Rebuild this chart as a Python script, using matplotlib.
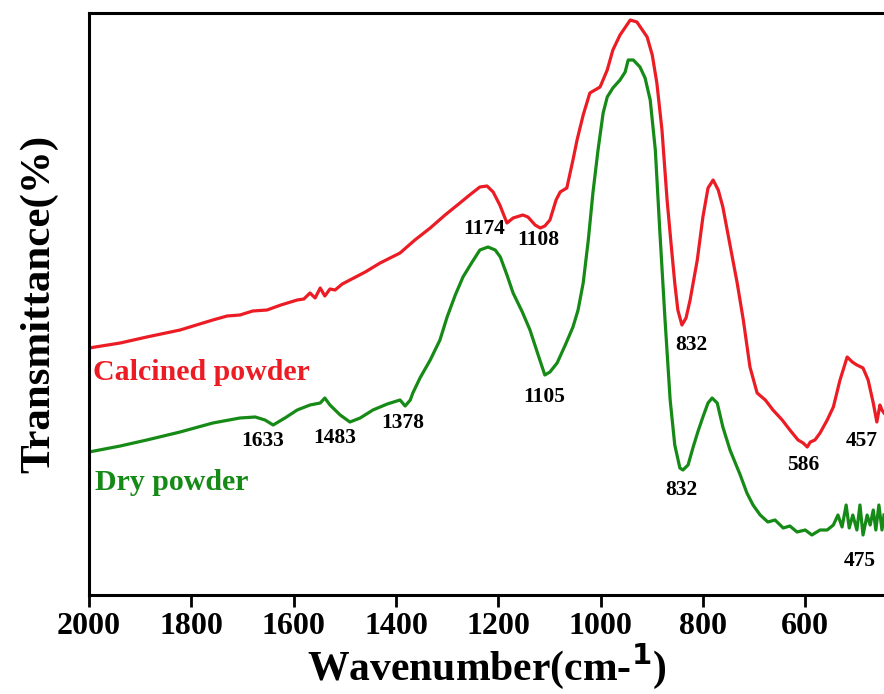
import matplotlib
matplotlib.use("Agg")
import matplotlib.pyplot as plt

plt.rcParams['font.family'] = ['Liberation Serif', 'DejaVu Serif']
plt.rcParams['font.weight'] = 'bold'

# calcined powder (wavenumber cm-1, transmittance a.u.)
calc_wn = [2000, 1939, 1887, 1822, 1758, 1730, 1705, 1680, 1652, 1625, 1593, 1580, 1568, 1558,
           1548, 1539, 1529, 1519, 1505, 1490,
           1460, 1431, 1392, 1363, 1333, 1304, 1275, 1256, 1236, 1222, 1210, 1197, 1183, 1171,
           1152, 1142, 1128, 1118, 1109, 1099, 1087, 1079, 1066, 1054, 1046, 1034, 1021, 1001,
           987, 976, 962, 942, 929, 909, 899, 890, 880, 870, 862, 855, 849, 841, 833, 825, 811,
           800, 790, 780, 770, 761, 747, 733, 721, 708, 694, 678, 663, 645, 630, 614, 604, 596,
           590, 581, 571, 557, 545, 532, 518, 508, 499, 487, 477, 467, 460, 454, 450, 446]
calc_t = [247, 252, 258, 265, 275, 279, 280, 284, 285, 290, 295, 296, 302, 297,
          307, 299, 306, 305, 311, 315,
          323, 332, 342, 355, 367, 380, 392, 400, 408, 409, 403, 390, 372, 377,
          380, 378, 370, 367, 369, 375, 395, 403, 407, 435, 455, 480, 502, 508,
          525, 545, 560, 575, 573, 558, 540, 512, 465, 395, 350, 312, 285, 270, 277, 295, 335,
          378, 407, 415, 405, 388, 350, 312, 275, 228, 202, 195, 185, 175, 165, 155, 152, 148,
          153, 155, 162, 175, 188, 215, 238, 233, 230, 227, 215, 192, 173, 190, 185, 182]

# dry powder
dry_wn = [2000, 1939, 1887, 1822, 1758, 1705, 1675, 1656, 1640, 1617, 1593, 1568, 1548, 1539,
          1529, 1509, 1490, 1470, 1445, 1417, 1392, 1382, 1372, 1367, 1353, 1333, 1314, 1300,
          1284, 1269, 1251, 1236, 1220, 1206, 1196, 1183, 1171, 1153, 1138, 1122, 1109, 1099,
          1085, 1069, 1054, 1044, 1034, 1024, 1015, 1005, 995, 987, 976, 962, 952, 946, 936,
          923, 913, 903, 893, 884, 874, 864, 855, 845, 839, 829, 819, 810, 800, 790, 782, 772,
          761, 747, 727, 714, 702, 688, 673, 659, 643, 630, 616, 600, 587, 571, 557, 545, 536,
          528, 520, 514, 507, 499, 493, 487, 479, 473, 467, 462, 456, 450, 446]
dry_t = [143, 149, 155, 163, 172, 177, 178, 175, 170, 177, 185, 190, 192, 197,
         190, 180, 173, 177, 185, 191, 195, 189, 195, 202, 217, 235, 255, 278,
         300, 318, 333, 345, 348, 345, 338, 320, 302, 283, 265, 240, 220, 223,
         232, 250, 268, 285, 312, 355, 402, 445, 482, 498, 507, 515, 523, 535, 535,
         528, 517, 495, 445, 362, 275, 195, 150, 127, 125, 130, 148, 163, 178, 192, 197, 192,
         168, 145, 120, 102, 90, 80, 73, 75, 67, 69, 63, 65, 60, 65, 65, 70, 80,
         68, 90, 67, 80, 65, 90, 60, 80, 70, 85, 65, 90, 65, 80]

# peak annotations: (text, x, y)
peak_labels = [("1174", 1228, 366), ("1108", 1122, 355), ("832", 823, 250),
               ("586", 604, 130), ("457", 489, 154),
               ("1633", 1660, 154), ("1483", 1519, 157), ("1378", 1386, 172),
               ("1105", 1110, 198), ("832", 843, 105), ("475", 493, 34)]

red = '#ec1c24'
green = '#168a16'

fig = plt.figure(figsize=(8.84, 6.94), dpi=100)
ax = fig.add_axes([89/884, 99/694, 1 - 89/884, 582/694])

ax.plot(calc_wn, calc_t, color=red, lw=2.3)
ax.plot(dry_wn, dry_t, color=green, lw=2.3)

for txt, x, y in peak_labels:
    ax.text(x, y, txt, fontsize=15.5, fontweight='bold', ha='center', va='center')

ax.text(1992, 223, "Calcined powder", color=red, fontsize=21.5, fontweight='bold', ha='left', va='center')
ax.text(1988, 112, "Dry powder", color=green, fontsize=21.5, fontweight='bold', ha='left', va='center')

ax.set_xlim(2000, 446)
ax.set_ylim(0, 582)
ax.set_xticks([2000, 1800, 1600, 1400, 1200, 1000, 800, 600])
ax.set_yticks([])
ax.tick_params(axis='x', direction='out', length=8.5, width=2, labelsize=23, pad=4)
for lbl in ax.get_xticklabels():
    lbl.set_fontweight('bold')
for s in ['left', 'bottom', 'top']:
    ax.spines[s].set_linewidth(2.2)
ax.spines['right'].set_visible(False)

ax.set_xlabel("Wavenumber(cm-$^{\\mathbf{1}}$)", fontsize=30, fontweight='bold', labelpad=0)
ax.set_ylabel("Transmittance(%)", fontsize=31, fontweight='bold', labelpad=22)

fig.savefig("out.png", dpi=100)
